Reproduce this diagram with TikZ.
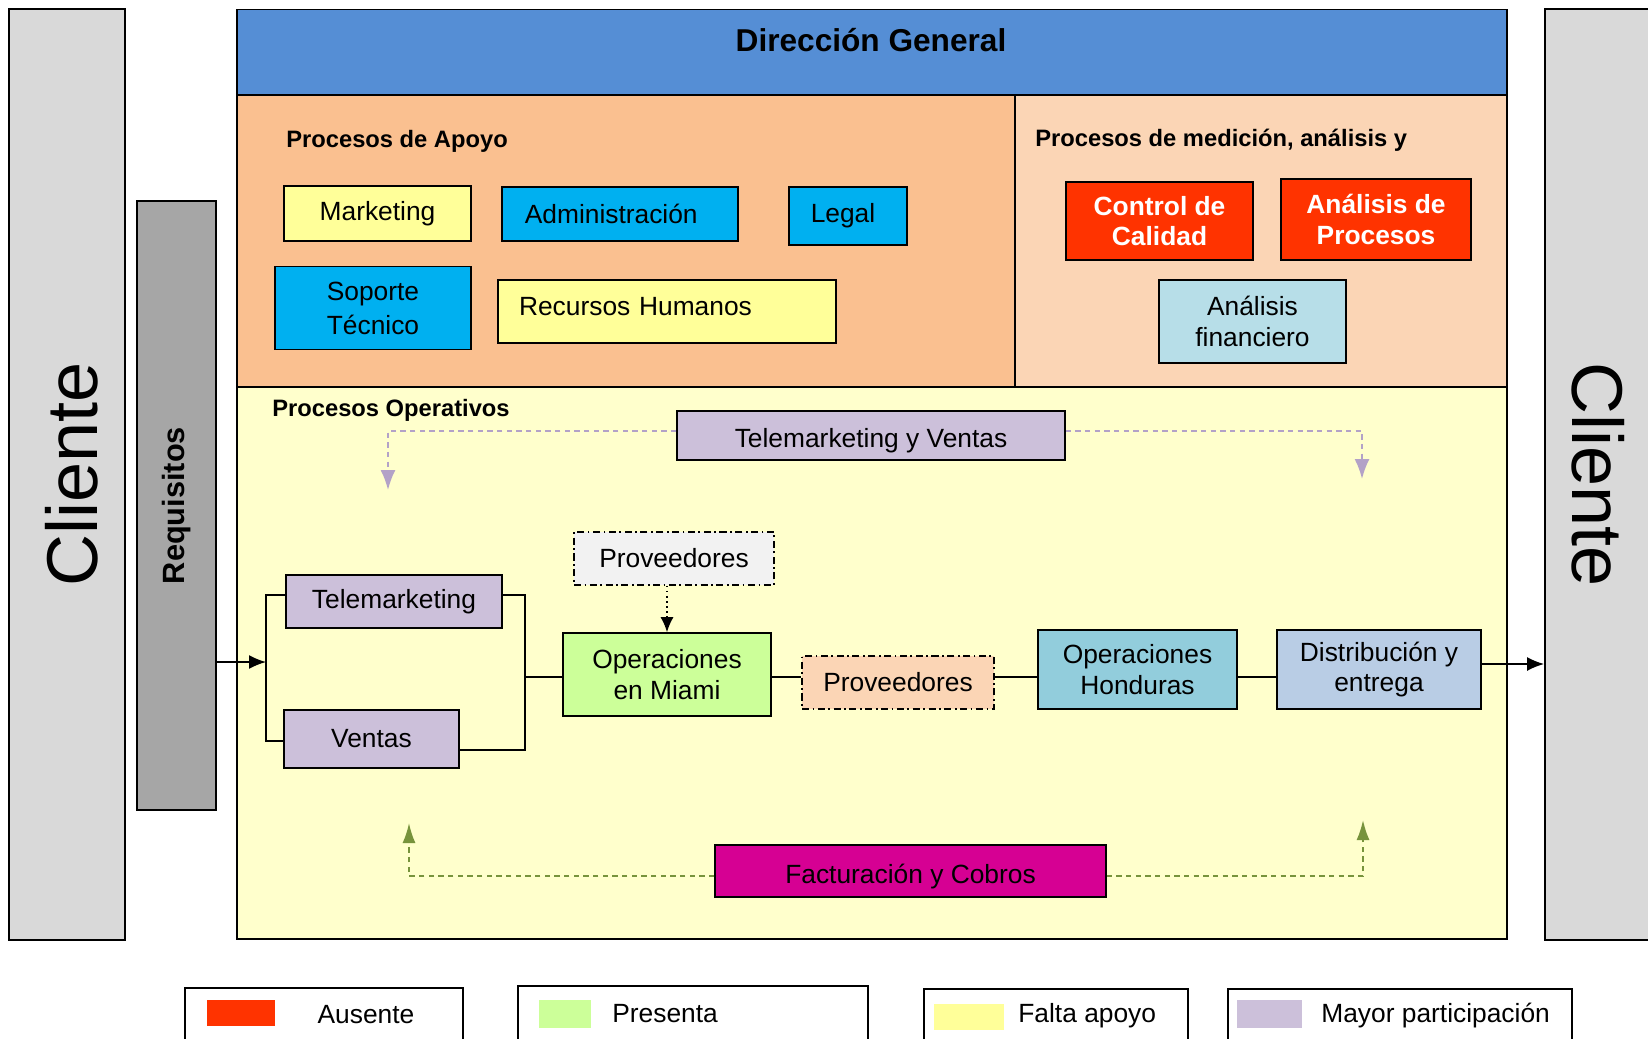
\documentclass[tikz,border=0pt]{standalone}
\usepackage{fontspec}
\setmainfont{Liberation Sans}
\usepackage{graphicx}
\usepackage{tikz}
\usetikzlibrary{positioning,arrows.meta}
\definecolor{dirblue}{RGB}{85,142,213}
\definecolor{apoyo}{RGB}{250,192,144}
\definecolor{medic}{RGB}{251,213,181}
\definecolor{opera}{RGB}{255,255,204}
\definecolor{cligray}{RGB}{217,217,217}
\definecolor{reqgray}{RGB}{166,166,166}
\definecolor{amar}{RGB}{255,255,153}
\definecolor{cian}{RGB}{0,176,240}
\definecolor{rojo}{RGB}{255,51,0}
\definecolor{celeste}{RGB}{183,222,232}
\definecolor{lila}{RGB}{204,192,218}
\definecolor{verde}{RGB}{204,255,153}
\definecolor{gris}{RGB}{242,242,242}
\definecolor{turq}{RGB}{146,205,220}
\definecolor{azulgris}{RGB}{185,205,229}
\definecolor{fucsia}{RGB}{214,0,147}
\definecolor{lilaline}{RGB}{179,162,199}
\definecolor{musgo}{RGB}{119,147,60}

\begin{document}
\begin{tikzpicture}[x=0.02cm,y=-0.02cm,
  box/.style={draw=black,line width=0.9pt,inner sep=0pt,align=center,
     font=\fontsize{15}{17.4}\selectfont},
  redbox/.style={box,fill=rojo,text=white,font=\fontsize{15}{17.4}\selectfont\bfseries},
  dashbox/.style={box,dash pattern=on 4pt off 2pt on 1pt off 2pt},
  title/.style={anchor=west,inner sep=0pt,font=\fontsize{13.5}{16}\selectfont\bfseries},
  bar/.style={draw=black,line width=1.1pt,inner sep=0pt},
  frame/.style={draw=black,line width=1.1pt},
  link/.style={draw=black,line width=0.9pt},
  legtext/.style={inner sep=0pt,font=\fontsize{15}{17}\selectfont}]
\useasboundingbox (0,0) rectangle (1648,1038);
\node[bar,fill=cligray,minimum width=2.32cm,minimum height=18.62cm,
  font=\fontsize{41}{45}\selectfont] (cliL) at (67,474.5) {\hspace{0.2cm}\rotatebox{90}{Cliente}};
\node[bar,fill=cligray,minimum width=2.12cm,minimum height=18.62cm,
  font=\fontsize{41}{45}\selectfont] (cliR) at (1598,474.5) {\rotatebox{-90}{Cliente}};
\node[bar,line width=0.9pt,fill=reqgray,minimum width=1.58cm,minimum height=12.18cm,
  font=\fontsize{17.5}{20}\selectfont\bfseries] (req) at (176.5,505.5) {\rotatebox{90}{Requisitos}};
\fill[opera] (237,387) rectangle (1507,939);
\fill[apoyo] (237,94.6) rectangle (1015,387);
\fill[medic] (1015,94.6) rectangle (1507,387);
\fill[dirblue] (237,9.5) rectangle (1507,94.6);
\draw[frame] (237,9.5) rectangle (1507,939);
\draw[frame] (237,94.6) -- (1507,94.6) (237,387) -- (1507,387) (1015,94.6) -- (1015,387);
\node[inner sep=0pt,font=\fontsize{18}{21}\selectfont\bfseries] (dir) at (871,40) {Dirección General};
\node[title] (tapo) at (286,141) {Procesos de Apoyo};
\node[title] (tmed) at (1035,140) {Procesos de medición, análisis y};
\node[title] (tope) at (272,410) {Procesos Operativos};
\node[box,fill=amar,minimum width=3.74cm,minimum height=1.10cm] (mkt) at (377.5,213.5) {Marketing};
\node[box,fill=cian,minimum width=4.72cm,minimum height=1.08cm] (adm) at (620,214) {Administración\hspace{0.35cm}};
\node[box,fill=cian,minimum width=2.36cm,minimum height=1.16cm] (leg) at (848,216) {Legal\hspace{0.2cm}};
\node[box,fill=cian,minimum width=3.92cm,minimum height=1.66cm] (sop) at (373,308) {Soporte\\[2pt]Técnico};
\node[box,fill=amar,minimum width=6.76cm,minimum height=1.26cm,text width=5.92cm,align=left] (rrhh) at (667,311.5)
  {\raisebox{3pt}[\height][\depth]{Recursos Humanos}};
\node[redbox,minimum width=3.74cm,minimum height=1.56cm] (cal) at (1159.5,221) {Control de\\Calidad};
\node[redbox,minimum width=3.80cm,minimum height=1.62cm] (apr) at (1376,219.5) {Análisis de\\Procesos};
\node[box,fill=celeste,minimum width=3.74cm,minimum height=1.66cm] (fin) at (1252.5,321.5) {Análisis\\financiero};
\node[box,fill=lila,minimum width=7.76cm,minimum height=0.98cm] (tyv) at (871,435.5) {\raisebox{-3pt}[\height][\depth]{Telemarketing y Ventas}};
\node[dashbox,fill=gris,minimum width=4.0cm,minimum height=1.06cm] (prv) at (674,558.5) {Proveedores};
\node[box,fill=lila,minimum width=4.32cm,minimum height=1.06cm] (tel) at (394,601.5) {Telemarketing};
\node[box,fill=lila,minimum width=3.50cm,minimum height=1.16cm] (ven) at (371.5,739) {Ventas};
\node[box,fill=verde,minimum width=4.16cm,minimum height=1.66cm] (mia) at (667,674.5) {Operaciones\\en Miami};
\node[dashbox,fill=medic,minimum width=3.84cm,minimum height=1.06cm] (prm) at (898,682.5) {Proveedores};
\node[box,fill=turq,minimum width=3.98cm,minimum height=1.58cm] (hon) at (1137.5,669.5) {Operaciones\\Honduras};
\node[box,fill=azulgris,minimum width=4.08cm,minimum height=1.58cm] (dis) at (1379,669.5) {Distribución y\\entrega};
\node[box,fill=fucsia,minimum width=7.82cm,minimum height=1.04cm] (fac) at (910.5,871) {\raisebox{-3pt}[\height][\depth]{Facturación y Cobros}};
\coordinate (split) at (266,662);
\coordinate (join) at (525,677);
\coordinate (chain) at (0,677);
\coordinate (exit) at (0,664);
\coordinate (tvL) at (388,490);
\coordinate (tvR) at (1362,479);
\coordinate (tvY) at (0,431);
\coordinate (fcL) at (409,823);
\coordinate (fcR) at (1363,820);
\coordinate (fcY) at (0,876);
\draw[link,-{Latex[length=3.4mm,width=2.8mm]}] (req.east |- split) -- (split);
\draw[link] ([yshift=0.13cm]tel.west) -| (split) |- ([yshift=-0.04cm]ven.west);
\draw[link] ([yshift=0.13cm]tel.east) -| (join) |- ([yshift=-0.22cm]ven.east);
\draw[link] (join) -- (mia.west |- chain);
\draw[link] (mia.east |- chain) -- (prm.west |- chain) (prm.east |- chain) -- (hon.west |- chain)
  (hon.east |- chain) -- (dis.west |- chain);
\draw[link,-{Latex[length=3.4mm,width=2.8mm]}] (dis.east |- exit) -- (cliR.west |- exit);
\draw[link,dotted,-{Latex[length=3mm,width=2.6mm]}] (prv.south -| mia.north) -- (mia.north);
\draw[draw=lilaline,line width=1.1pt,dash pattern=on 3pt off 2.5pt,
  -{Latex[length=4mm,width=3mm,fill=lilaline]}] (tyv.west |- tvY) -| (tvL);
\draw[draw=lilaline,line width=1.1pt,dash pattern=on 3pt off 2.5pt,
  -{Latex[length=4mm,width=3mm,fill=lilaline]}] (tyv.east |- tvY) -| (tvR);
\draw[draw=musgo,line width=1.1pt,dash pattern=on 3pt off 2.5pt,
  -{Latex[length=4mm,width=2.6mm,fill=musgo]}] (fac.west |- fcY) -| (fcL);
\draw[draw=musgo,line width=1.1pt,dash pattern=on 3pt off 2.5pt,
  -{Latex[length=4mm,width=2.6mm,fill=musgo]}] (fac.east |- fcY) -| (fcR);
\draw[frame] (185,988) rectangle (463,1060);
\draw[frame] (518,986) rectangle (868,1060);
\draw[frame] (924,989) rectangle (1188,1060);
\draw[frame] (1228,989) rectangle (1572,1060);
\fill[rojo] (207,1000) rectangle (275,1026);
\fill[verde] (539,1000) rectangle (591,1028);
\fill[amar] (934,1004) rectangle (1004,1030);
\fill[lila] (1237,1000) rectangle (1302,1028);
\node[legtext] (lausente) at (366,1015) {Ausente};
\node[legtext,anchor=west] (lpresenta) at (612,1014) {Presenta};
\node[legtext,anchor=west] (lfalta) at (1018,1016) {Falta apoyo};
\node[legtext,anchor=west] (lmayor) at (1321,1016) {Mayor participación};
\end{tikzpicture}
\end{document}
